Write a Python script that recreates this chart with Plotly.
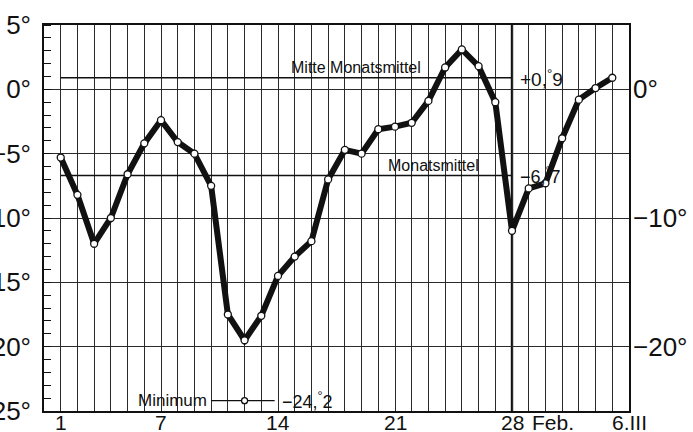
import plotly.graph_objects as go

# ---- data ----
days = list(range(1, 35))
temps = [-5.3, -8.2, -12.0, -10.0, -6.6, -4.2, -2.4, -4.1, -5.0, -7.5,
         -17.5, -19.5, -17.6, -14.5, -13.0, -11.8, -7.0, -4.7, -5.0, -3.1,
         -2.9, -2.6, -0.9, 1.7, 3.1, 1.8, -1.0, -11.0, -7.7, -7.3,
         -3.8, -0.8, 0.1, 0.9]

mitte_monatsmittel = 0.9
monatsmittel = -6.7
abs_minimum = -24.2
abs_minimum_day = 12

x_tick_vals = [1, 7, 14, 21, 28, 35]
x_tick_text = ["1", "7", "14", "21", "28", "6.III"]
left_tick_vals = [5, 0, -5, -10, -15, -20, -25]
left_tick_text = ["5°", "0°", "−5°", "−10°", "−15°", "−20°", "−25°"]
right_tick_vals = [0, -10, -20]
right_tick_text = ["0°", "−10°", "−20°"]

FONT = "Liberation Sans, Arial, sans-serif"
INK = "#111111"
GRID = "#2a2a2a"

fig = go.Figure()

# mean lines
fig.add_trace(go.Scatter(x=[1, 28], y=[mitte_monatsmittel] * 2, mode="lines",
                         line=dict(color=INK, width=1.6), hoverinfo="skip", showlegend=False))
fig.add_trace(go.Scatter(x=[1, 28], y=[monatsmittel] * 2, mode="lines",
                         line=dict(color=INK, width=1.6), hoverinfo="skip", showlegend=False))

# absolute minimum marker
fig.add_trace(go.Scatter(x=[10, abs_minimum_day, 13.8], y=[abs_minimum] * 3, mode="lines",
                         line=dict(color=INK, width=1.3), hoverinfo="skip", showlegend=False))
fig.add_trace(go.Scatter(x=[abs_minimum_day], y=[abs_minimum], mode="markers",
                         marker=dict(size=6, color="white", line=dict(color=INK, width=1.3)),
                         hoverinfo="skip", showlegend=False))

# main curve
fig.add_trace(go.Scatter(x=days, y=temps, mode="lines+markers",
                         line=dict(color=INK, width=6),
                         marker=dict(size=7, color="white", line=dict(color=INK, width=1.3)),
                         showlegend=False))

# dummy trace for right axis
fig.add_trace(go.Scatter(x=[0], y=[0], yaxis="y2", mode="markers",
                         marker=dict(opacity=0), hoverinfo="skip", showlegend=False))

# thick line at 28 Feb
fig.add_shape(type="line", x0=28, x1=28, y0=-25, y1=5, xref="x", yref="y",
              line=dict(color=INK, width=2.4), layer="below")

DEG = "<sup>°</sup>"
ann = []
ann.append(dict(x=18.64, y=mitte_monatsmittel, text="Mitte Monatsmittel", showarrow=False,
                yanchor="bottom", yshift=0, font=dict(family=FONT, size=16, color=INK)))
ann.append(dict(x=23.32, y=monatsmittel, text="Monatsmittel", showarrow=False,
                yanchor="bottom", yshift=0, font=dict(family=FONT, size=16, color=INK)))
ann.append(dict(x=28.35, y=mitte_monatsmittel, text="+0," + DEG + "9", showarrow=False,
                xanchor="left", yanchor="middle", font=dict(family=FONT, size=19, color=INK)))
ann.append(dict(x=28.35, y=monatsmittel, text="−6," + DEG + "7", showarrow=False,
                xanchor="left", yanchor="middle", font=dict(family=FONT, size=18, color=INK)))
ann.append(dict(x=9.85, y=abs_minimum, text="Minimum", showarrow=False, xanchor="right",
                yanchor="middle", font=dict(family=FONT, size=17, color=INK)))
ann.append(dict(x=14.1, y=abs_minimum, text="−24," + DEG + "2", showarrow=False,
                xanchor="left", yanchor="middle", font=dict(family=FONT, size=18, color=INK)))

# x-axis labels (placed just under the frame)
for v, t in zip(x_tick_vals, x_tick_text):
    ann.append(dict(x=v, y=0, yref="paper", text=t, showarrow=False, xanchor="center",
                    yanchor="top", yshift=2, font=dict(family=FONT, size=21, color=INK)))
ann.append(dict(x=30.45, y=0, yref="paper", text="Feb.", showarrow=False, xanchor="center",
                yanchor="top", yshift=2, font=dict(family=FONT, size=21, color=INK)))

fig.update_layout(
    width=693, height=432,
    margin=dict(l=44, r=64, t=25, b=21),
    paper_bgcolor="white", plot_bgcolor="white",
    annotations=ann,
    xaxis=dict(range=[0, 35], tickmode="array", tickvals=list(range(0, 36)),
               ticktext=[""] * 36, showticklabels=False,
               showgrid=True, gridcolor=GRID, gridwidth=1.2, zeroline=False,
               showline=True, mirror=True, linecolor=INK, linewidth=1.6,
               ticks="", automargin=False),
    yaxis=dict(range=[-25, 5], tickmode="array", tickvals=left_tick_vals, ticktext=left_tick_text,
               showgrid=True, gridcolor=GRID, gridwidth=1.2, zeroline=False,
               showline=True, mirror=True, linecolor=INK, linewidth=1.6,
               ticks="", ticklabelstandoff=6, automargin=False,
               minor=dict(dtick=1, tick0=0, ticks="inside", ticklen=7, tickcolor=INK,
                          tickwidth=1.2, showgrid=False),
               tickfont=dict(family=FONT, size=26, color=INK)),
    yaxis2=dict(range=[-25, 5], overlaying="y", side="right", tickmode="array",
                tickvals=right_tick_vals, ticktext=right_tick_text, showgrid=False,
                zeroline=False, showline=False, ticks="", ticklabelstandoff=3,
                automargin=False, tickfont=dict(family=FONT, size=26, color=INK)),
)

fig.write_html("out.html", config={"displayModeBar": False},
               post_script="document.body.style.margin='0px';document.body.style.overflow='hidden';")
